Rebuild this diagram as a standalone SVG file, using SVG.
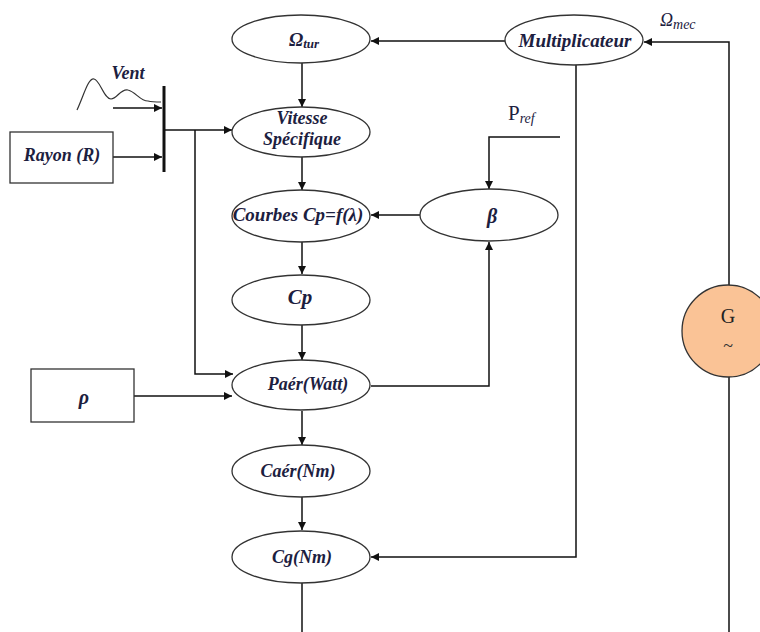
<svg xmlns="http://www.w3.org/2000/svg" width="760" height="632" viewBox="0 0 760 632">
<defs>
<marker id="ah" viewBox="0 0 10 10" refX="10" refY="5" markerWidth="9" markerHeight="8" markerUnits="userSpaceOnUse" orient="auto">
<path d="M0,0 L10,5 L0,10 z" fill="#111"/>
</marker>
<style>
.n{fill:#fff;stroke:#333;stroke-width:1.3}
.t{font-family:"Liberation Serif",serif;font-style:italic;font-weight:bold;fill:#1c2040;text-anchor:middle}
.c{fill:none;stroke:#111;stroke-width:1.5}
.a{fill:none;stroke:#111;stroke-width:1.5;marker-end:url(#ah)}
</style>
</defs>
<rect width="760" height="632" fill="#fff"/>
<g id="connectors">
<line class="a" x1="302" y1="63" x2="302" y2="107"/>
<line class="a" x1="302" y1="157" x2="302" y2="190"/>
<line class="a" x1="302" y1="242" x2="302" y2="274"/>
<line class="a" x1="302" y1="325" x2="302" y2="360"/>
<line class="a" x1="302" y1="411" x2="302" y2="445"/>
<line class="a" x1="302" y1="497" x2="302" y2="530"/>
<line class="c" x1="302" y1="583" x2="302" y2="632"/>
<line class="a" x1="505" y1="41" x2="371" y2="41"/>
<polyline class="a" points="729,632 729,42 644,42"/>
<polyline class="a" points="576,65 576,557 371,557"/>
<polyline class="a" points="560,137 489,137 489,189"/>
<line class="a" x1="420" y1="215" x2="371" y2="215"/>
<polyline class="a" points="371,386 489,386 489,242"/>
<line class="a" x1="113" y1="108" x2="162" y2="108"/>
<line class="a" x1="113" y1="157" x2="162" y2="157"/>
<line x1="164" y1="86" x2="164" y2="172" stroke="#111" stroke-width="3"/>
<line class="a" x1="165" y1="130" x2="232" y2="130"/>
<polyline class="a" points="195,130 195,374 233,374"/>
<line class="a" x1="134" y1="396" x2="232" y2="396"/>
<path d="M77,110 C84,95 88,78 94,79 C100,80 104,99 111,99 C117,99 121,88 128,90 C136,92 140,101 148,101 C152,102 156,102 161,102" fill="none" stroke="#333" stroke-width="1.2"/>
</g>
<g id="omega_tur"><ellipse class="n" cx="301" cy="39" rx="69" ry="24"/><text class="t" x="304" y="46" font-size="19" font-weight="normal">Ω<tspan font-size="13" dy="2">tur</tspan></text></g>
<g id="vitesse"><ellipse class="n" cx="301" cy="132" rx="69" ry="25"/><text class="t" x="302" y="124" font-size="18">Vitesse</text><text class="t" x="302" y="145" font-size="18">Spécifique</text></g>
<g id="courbes"><ellipse class="n" cx="301" cy="216" rx="69" ry="26"/><text class="t" x="298" y="221" font-size="19" font-weight="normal">Courbes Cp=f(λ)</text></g>
<g id="cp"><ellipse class="n" cx="301" cy="300" rx="69" ry="25"/><text class="t" x="300" y="304" font-size="21" font-weight="normal">Cp</text></g>
<g id="paer"><ellipse class="n" cx="301" cy="385" rx="69" ry="25"/><text class="t" x="308" y="390" font-size="18">Paér(Watt)</text></g>
<g id="caer"><ellipse class="n" cx="301" cy="471" rx="69" ry="26"/><text class="t" x="298" y="477" font-size="18">Caér(Nm)</text></g>
<g id="cg"><ellipse class="n" cx="301" cy="557" rx="69" ry="26"/><text class="t" x="302" y="563" font-size="18">Cg(Nm)</text></g>
<g id="multiplicateur"><ellipse class="n" cx="574" cy="40" rx="69" ry="25"/><text class="t" x="575" y="47" font-size="19">Multiplicateur</text></g>
<g id="beta"><ellipse class="n" cx="489" cy="215" rx="69" ry="26"/><text class="t" x="492" y="223" font-size="20" fill="#1a3070">β</text></g>
<g id="rayon"><rect class="n" x="10" y="132" width="103" height="51"/><text class="t" x="62" y="161" font-size="18">Rayon (R)</text></g>
<g id="rho"><rect class="n" x="31" y="369" width="103" height="53"/><text class="t" x="84" y="404" font-size="20">ρ</text></g>
<g id="generator"><circle cx="728" cy="331" r="46" fill="#fac396" stroke="#333" stroke-width="1.3"/><text x="728" y="323" font-family="Liberation Serif,serif" font-size="20" fill="#222" text-anchor="middle">G</text><text x="728" y="352" font-family="Liberation Serif,serif" font-size="18" fill="#333" text-anchor="middle">~</text></g>
<g id="labels">
<text class="t" x="128" y="79" font-size="18">Vent</text>
<text x="508" y="120" font-family="Liberation Serif,serif" font-size="21" fill="#1c2040">P<tspan font-size="14" font-style="italic" dy="3">ref</tspan></text>
<text x="660" y="26" font-family="Liberation Serif,serif" font-style="italic" font-size="18" fill="#1c2040">Ω<tspan font-size="14" dy="3">mec</tspan></text>
</g>
</svg>
